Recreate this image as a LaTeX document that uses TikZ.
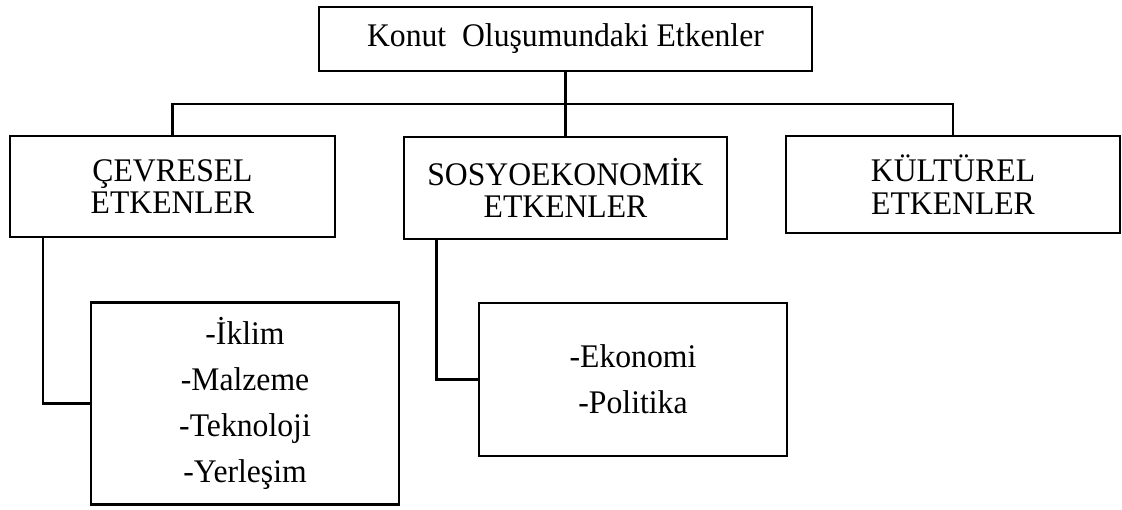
\documentclass[tikz,border=0pt]{standalone}
\usepackage{fontspec}
\setmainfont{Liberation Serif}[FakeStretch=0.96]
\begin{document}
\begin{tikzpicture}[x=1pt,y=-1pt,
  box/.style={draw=black,line width=2.6pt,rectangle,inner sep=0pt,align=center,
    font=\fontsize{33}{32.5}\selectfont},
  listbox/.style={box,font=\fontsize{33}{46}\selectfont},
  conn/.style={draw=black,line width=2.4pt}]
\useasboundingbox (0,0) rectangle (1122,509);
\node[box,minimum width=493pt,minimum height=64pt] (top) at (565.5,39) {Konut\ \ Oluşumundaki Etkenler};
\node[box,minimum width=325pt,minimum height=101pt] (cev) at (172.5,186.5) {ÇEVRESEL\\ETKENLER};
\node[box,minimum width=323pt,minimum height=102pt] (sos) at (565.5,188) {SOSYOEKONOMİK\\ETKENLER};
\node[box,minimum width=334pt,minimum height=97pt] (kul) at (953,184.5) {KÜLTÜREL\\ETKENLER};
\node[listbox,minimum width=308pt,minimum height=202pt] (cevl) at (245,403.5) {-İklim\\-Malzeme\\-Teknoloji\\-Yerleşim};
\node[listbox,minimum width=308pt,minimum height=153pt] (sosl) at (633,379.5) {-Ekonomi\\-Politika};
\coordinate (busL) at (172.5,104);
\coordinate (busR) at (953,104);
\coordinate (dropL) at (43,0);
\coordinate (dropM) at (436.5,0);
\draw[conn] (top.south) -- (sos.north);
\draw[conn] (cev.north) -- (busL) -- (busR) -- (kul.north);
\draw[conn] (dropL |- cev.south) |- (cevl.west);
\draw[conn] (dropM |- sos.south) |- (sosl.west);
\end{tikzpicture}
\end{document}
